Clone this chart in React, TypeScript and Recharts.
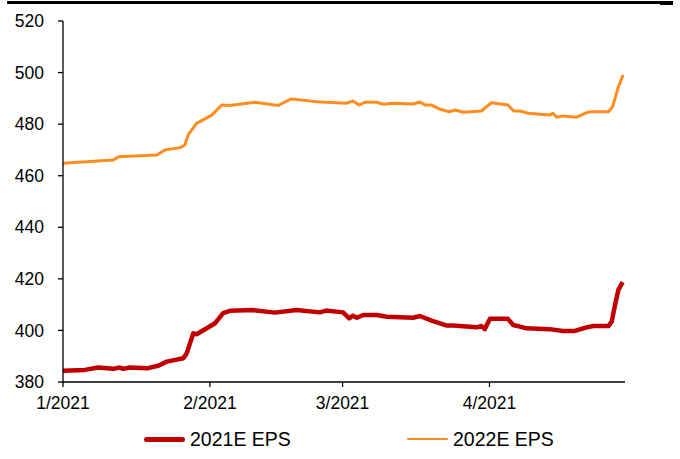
import React from "react";
import { LineChart, Line, XAxis, YAxis } from "recharts";

// Day offsets from 1 Jan 2021 and the EPS consensus on those days
const eps2021Days = [
  0, 4.6, 7.4, 10.6, 12.0, 12.7, 14.1, 17.7, 20.1, 21.9, 25.4, 26.1, 27.5, 28.2,
  32.1, 33.8, 35.2, 40.1, 44.7, 49.3, 54.2, 55.5, 59.1, 60.4, 61.2, 62.0, 63.4,
  66.2, 68.3, 73.9, 75.3, 77.8, 81.0, 82.3, 87.3, 88.3, 89.0, 90.1, 93.9, 95.0,
  96.4, 97.8, 102.7, 105.5, 108.0, 110.5, 111.9, 115.1, 115.8, 116.5, 117.2, 118.1,
];
const eps2021 = [
  384.4, 384.7, 385.6, 385.1, 385.6, 385.1, 385.6, 385.3, 386.3, 387.9, 389.2,
  391.1, 398.9, 398.5, 402.8, 406.7, 407.6, 407.9, 406.9, 407.9, 407.0, 407.7,
  407.0, 404.7, 405.7, 404.9, 406.0, 406.0, 405.3, 404.9, 405.6, 403.8, 401.9,
  401.9, 401.2, 401.7, 400.5, 404.5, 404.5, 402.1, 401.5, 400.8, 400.5, 399.8,
  399.8, 401.2, 401.7, 401.7, 403.4, 409.9, 415.7, 418.7,
];

const eps2022Days = [
  0, 10.6, 11.8, 19.8, 21.5, 24.7, 25.7, 26.4, 28.2, 31.4, 33.5, 35.2, 40.5,
  45.4, 46.5, 48.2, 53.5, 59.8, 61.2, 62.5, 63.7, 66.2, 67.6, 69.7, 73.9, 75.3,
  76.4, 77.8, 79.5, 81.6, 82.7, 84.5, 88.3, 89.4, 90.4, 93.9, 95.1, 96.4, 98.2,
  102.7, 103.4, 104.2, 105.5, 108.4, 110.5, 111.5, 115.1, 116.0, 117.2, 118.2,
];
const eps2022 = [
  464.8, 466.1, 467.4, 468.0, 470.0, 470.9, 471.9, 475.8, 480.3, 483.5, 487.4,
  487.2, 488.5, 487.2, 488.3, 489.8, 488.7, 488.1, 489.0, 487.4, 488.5, 488.5,
  487.7, 488.1, 487.8, 488.6, 487.4, 487.4, 485.8, 484.8, 485.5, 484.6, 485.1,
  486.8, 488.3, 487.4, 485.1, 485.1, 484.2, 483.5, 484.2, 482.7, 483.2, 482.7,
  484.5, 484.8, 484.8, 486.8, 494.5, 499.1,
];

const monthTicks = [0, 31, 59, 90];
const monthLabels = ["1/2021", "2/2021", "3/2021", "4/2021"];
const yTicks = [380, 400, 420, 440, 460, 480, 500, 520];

const RED = "#C00000";
const ORANGE = "#FF8C1F";
const FONT = "'Liberation Sans', Arial, sans-serif";

const series2021 = eps2021Days.map((d, i) => ({ day: d, v: eps2021[i] }));
const series2022 = eps2022Days.map((d, i) => ({ day: d, v: eps2022[i] }));

const tickStyle = { fontSize: 17.5, fill: "#000", fontFamily: FONT };

function LegendItem({ color, width, label }: { color: string; width: number; label: string }) {
  return (
    <div style={{ display: "flex", alignItems: "center", height: 22 }}>
      <div style={{ width: 41, height: width, background: color, borderRadius: width / 2 }} />
      <span style={{ marginLeft: 5, fontSize: 19.5, lineHeight: "22px", fontFamily: FONT, color: "#000" }}>
        {label}
      </span>
    </div>
  );
}

export default function App() {
  return (
    <div style={{ position: "absolute", left: 0, top: 0, width: 680, height: 459, background: "#fff" }}>
      <div style={{ position: "absolute", left: 7, top: 1, width: 666, height: 3, background: "#000" }} />
      <div style={{ position: "absolute", left: 660, top: 3, width: 13, height: 2, background: "#000" }} />
      <LineChart
        width={680}
        height={459}
        margin={{ top: 21, right: 55, bottom: 45, left: 0 }}
      >
        <XAxis
          type="number"
          dataKey="day"
          domain={[0, 118.6]}
          ticks={monthTicks}
          tickFormatter={(v: number) => monthLabels[monthTicks.indexOf(v)]}
          tick={tickStyle}
          tickSize={5}
          tickMargin={10}
          stroke="#000"
          strokeWidth={1.3}
          height={32}
          allowDataOverflow
        />
        <YAxis
          type="number"
          domain={[380, 520]}
          ticks={yTicks}
          tick={tickStyle}
          tickSize={5}
          tickMargin={14}
          stroke="#000"
          strokeWidth={1.3}
          width={63}
        />
        <Line
          data={series2022}
          dataKey="v"
          type="linear"
          stroke={ORANGE}
          strokeWidth={3}
          dot={false}
          strokeLinejoin="round"
          isAnimationActive={false}
        />
        <Line
          data={series2021}
          dataKey="v"
          type="linear"
          stroke={RED}
          strokeWidth={4.5}
          dot={false}
          strokeLinejoin="round"
          isAnimationActive={false}
        />
      </LineChart>
      <div style={{ position: "absolute", left: 144, top: 428 }}>
        <LegendItem color={RED} width={5} label="2021E EPS" />
      </div>
      <div style={{ position: "absolute", left: 407, top: 428 }}>
        <LegendItem color={ORANGE} width={2.5} label="2022E EPS" />
      </div>
    </div>
  );
}
